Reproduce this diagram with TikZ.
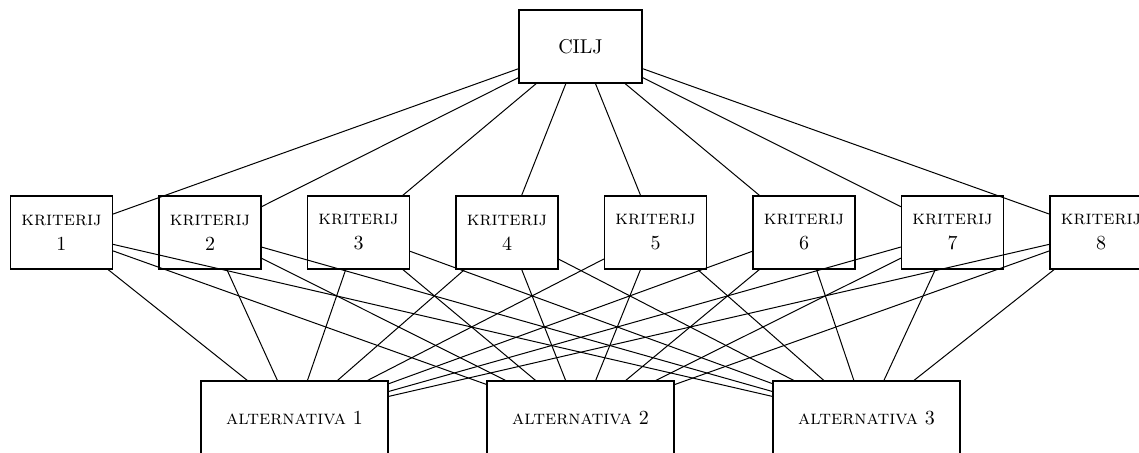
\documentclass[tikz,border=0pt]{standalone}
\begin{document}
\begin{tikzpicture}[x=0.5pt,y=-0.5pt,
  box/.style={draw,line width=0.6pt,fill=white,align=center,inner sep=0pt,font=\fontsize{10}{12.5}\selectfont},
  kbox/.style={box,minimum width=51pt,minimum height=36.5pt},
  cbox/.style={box,minimum width=61.5pt,minimum height=36.5pt},
  abox/.style={box,minimum width=93.5pt,minimum height=37pt},
  link/.style={line width=0.5pt}]
\useasboundingbox (0,0) rectangle (1139,453);
\clip (0,0) rectangle (1139,453);
\node[cbox] (c) at (580.5,46.5) {CILJ};
\foreach \i in {1,...,8}{
  \node[kbox] (k\i) at ({61.5+148.5*(\i-1)},232.5) {\textsc{kriterij}\\\i};
}
\foreach \j in {1,2,3}{
  \node[abox] (a\j) at ({294.5+286*(\j-1)},418) {\textsc{alternativa} \j};
}
\foreach \i in {1,...,8}{
  \draw[link] (c) -- (k\i);
  \foreach \j in {1,2,3}{
    \draw[link] (k\i) -- (a\j);
  }
}
\end{tikzpicture}
\end{document}
